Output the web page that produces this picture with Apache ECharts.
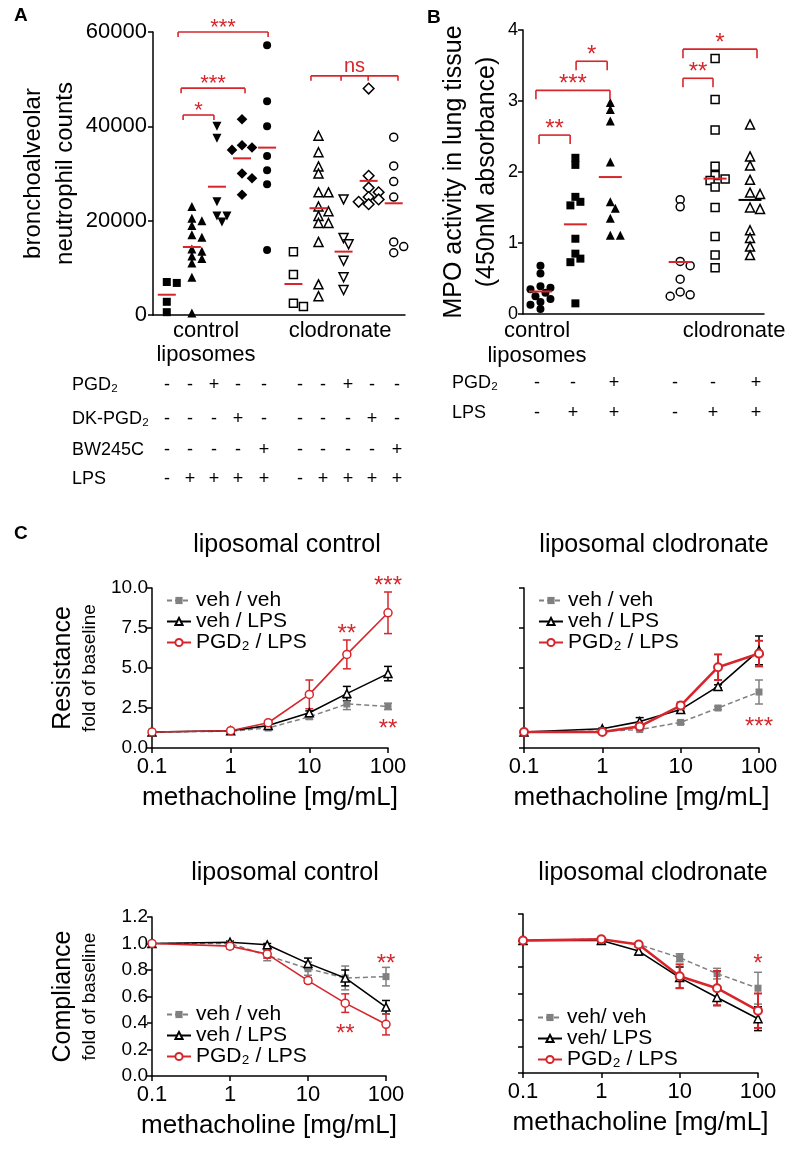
<!DOCTYPE html>
<html><head><meta charset="utf-8">
<script src="https://cdn.jsdelivr.net/npm/echarts@6/dist/echarts.min.js"></script>
<style>html,body{margin:0;padding:0;background:#fff}#c{width:800px;height:1152px}</style>
</head><body><div id="c"></div>
<script>
// ================= DATA =================
// Panel A: bronchoalveolar neutrophil counts (one array per group)
const a_ctrl_veh  = [7000, 6800, 2800, 600];
const a_ctrl_lps  = [23000, 20500, 20000, 19000, 17000, 16500, 14000, 13500, 12500, 12000, 11000, 8000, 400];
const a_ctrl_pgd2 = [40000, 37500, 24000, 21000, 21000, 19700];
const a_ctrl_dk   = [41500, 36000, 35500, 35000, 30000, 29000, 25500];
const a_ctrl_bw   = [57200, 45300, 40000, 33700, 30700, 27700, 13800];
const a_clod_veh  = [13400, 8600, 2500, 1800];
const a_clod_lps  = [38000, 34500, 31500, 30000, 26000, 26000, 23000, 22000, 21000, 19500, 19500, 15500, 6500, 4000];
const a_clod_pgd2 = [24500, 16300, 15000, 11500, 8000, 5300];
const a_clod_dk   = [48000, 29500, 27000, 26000, 25000, 24500, 24000, 23500];
const a_clod_bw   = [37700, 31600, 28300, 25000, 15500, 14500, 13200];
const yTicksA = [0, 20000, 40000, 60000];
const groupLabelsA = ['control\nliposomes', 'clodronate'];
const tableRowsA = ['PGD₂', 'DK-PGD₂', 'BW245C', 'LPS'];
const tableSignsA = [
  ['-','-','+','-','-','-','-','+','-','-'],
  ['-','-','-','+','-','-','-','-','+','-'],
  ['-','-','-','-','+','-','-','-','-','+'],
  ['-','+','+','+','+','-','+','+','+','+']
];
const bracketsA = [
  {xs:[1.45, 5.04], y:60000, label:'***'},
  {xs:[1.57, 4.12], y:48100, label:'***'},
  {xs:[1.65, 2.88], y:42400, label:'*'},
  {xs:[6.75, 7.95, 9.03, 10.22], y:50700, label:'ns'}
];

// Panel B: MPO activity
const b_ctrl_veh  = [0.68, 0.57, 0.39, 0.37, 0.35, 0.30, 0.25, 0.21, 0.17, 0.13, 0.07];
const b_ctrl_lps  = [2.2, 2.1, 1.65, 1.58, 1.53, 1.06, 0.85, 0.78, 0.73, 0.15];
const b_ctrl_pgd2 = [2.98, 2.88, 2.72, 2.14, 1.58, 1.49, 1.35, 1.11, 1.11];
const b_clod_veh  = [1.61, 1.51, 0.74, 0.68, 0.49, 0.31, 0.27, 0.25];
const b_clod_lps  = [3.6, 3.02, 2.59, 2.08, 1.95, 1.9, 1.88, 1.79, 1.5, 1.09, 0.83, 0.65];
const b_clod_pgd2 = [2.67, 2.22, 2.09, 1.89, 1.71, 1.69, 1.5, 1.48, 1.18, 1.07, 0.95, 0.83];
const yTicksB = [0, 1, 2, 3, 4];
const groupLabelsB = ['control\nliposomes', 'clodronate'];
const tableRowsB = ['PGD₂', 'LPS'];
const tableSignsB = [
  ['-','-','+','-','-','+'],
  ['-','+','+','-','+','+']
];
const bracketsB = [
  {xs:[0.96, 1.85], y:2.52, label:'**'},
  {xs:[0.87, 2.99], y:3.15, label:'***'},
  {xs:[2.02, 2.91], y:3.56, label:'*'},
  {xs:[5.08, 5.94], y:3.32, label:'**'},
  {xs:[5.08, 7.20], y:3.73, label:'*'}
];

// Panel C: methacholine dose-response
const methacholine = [0.1, 1, 3, 10, 30, 100];
const xTicksC = [0.1, 1, 10, 100];
const yTicksRes = [0, 2.5, 5, 7.5, 10];
const yTicksComp = [0, 0.2, 0.4, 0.6, 0.8, 1.0, 1.2];
const legendNames  = ['veh / veh', 'veh / LPS', 'PGD₂ / LPS'];
const legendNames2 = ['veh/ veh', 'veh/ LPS', 'PGD₂ / LPS'];
const chartTitles = ['liposomal control', 'liposomal clodronate', 'liposomal control', 'liposomal clodronate'];

// Resistance, liposomal control
const resCtrl_vv = [1.0, 1.05, 1.25, 1.95, 2.75, 2.6];
const resCtrl_vv_err = [0, 0.05, 0.1, 0.15, 0.35, 0.2];
const resCtrl_vl = [1.0, 1.08, 1.4, 2.2, 3.4, 4.65];
const resCtrl_vl_err = [0, 0.05, 0.1, 0.12, 0.45, 0.45];
const resCtrl_pl = [1.0, 1.08, 1.58, 3.35, 5.85, 8.45];
const resCtrl_pl_err = [0, 0.05, 0.1, 0.9, 0.9, 1.3];
const resCtrl_stars = [[100, 10.4, '***'], [30, 7.4, '**'], [100, 1.45, '**']];
// Resistance, liposomal clodronate
const resClod_vv = [1.0, 1.05, 1.15, 1.6, 2.5, 3.5];
const resClod_vv_err = [0, 0.03, 0.05, 0.1, 0.1, 0.75];
const resClod_vl = [1.0, 1.2, 1.65, 2.4, 3.85, 6.1];
const resClod_vl_err = [0, 0.05, 0.25, 0.1, 0.1, 0.9];
const resClod_pl = [1.0, 1.0, 1.35, 2.65, 5.05, 5.9];
const resClod_pl_err = [0, 0.05, 0.1, 0.2, 0.8, 0.8];
const resClod_stars = [[100, 1.6, '***']];
// Compliance, liposomal control
const compCtrl_vv = [1.0, 1.0, 0.91, 0.81, 0.74, 0.75];
const compCtrl_vv_err = [0, 0.01, 0.04, 0.05, 0.09, 0.07];
const compCtrl_vl = [1.0, 1.01, 0.99, 0.85, 0.74, 0.52];
const compCtrl_vl_err = [0, 0.01, 0.01, 0.04, 0.06, 0.05];
const compCtrl_pl = [1.0, 0.98, 0.92, 0.72, 0.55, 0.39];
const compCtrl_pl_err = [0, 0.02, 0.03, 0.02, 0.07, 0.08];
const compCtrl_stars = [[100, 0.88, '**'], [30, 0.35, '**']];
// Compliance, liposomal clodronate
const compClod_vv = [1.0, 1.01, 0.97, 0.87, 0.75, 0.64];
const compClod_vv_err = [0, 0.01, 0.01, 0.03, 0.04, 0.12];
const compClod_vl = [1.0, 1.0, 0.92, 0.72, 0.57, 0.41];
const compClod_vl_err = [0, 0.01, 0.03, 0.08, 0.06, 0.09];
const compClod_pl = [1.0, 1.01, 0.97, 0.73, 0.64, 0.47];
const compClod_pl_err = [0, 0.01, 0.01, 0.09, 0.13, 0.13];
const compClod_stars = [[100, 0.86, '*']];

// ================= STYLE / LAYOUT =================
const FF = 'Liberation Sans, Arial, sans-serif';
const RED = '#d7262b', GREY = '#808080', BLACK = '#000';
const gridA = {left:153, top:32, width:252, height:283};
const gridB = {left:523, top:30, width:241, height:284};
const gridC = [
  {left:152, top:588, width:236, height:160},
  {left:524, top:588, width:235, height:160},
  {left:152, top:917, width:234, height:159},
  {left:523, top:914, width:235, height:159}
];
const xMinA = 0.45, xMaxA = 10.5, xMinB = 0.5, xMaxB = 7.4;
const pxPerXA = gridA.width / (xMaxA - xMinA);
const pxPerYA = gridA.height / (yTicksA[yTicksA.length-1] - yTicksA[0]);
const pxPerXB = gridB.width / (xMaxB - xMinB);
const pxPerYB = gridB.height / (yTicksB[yTicksB.length-1] - yTicksB[0]);

const groupsA = [a_ctrl_veh, a_ctrl_lps, a_ctrl_pgd2, a_ctrl_dk, a_ctrl_bw,
                 a_clod_veh, a_clod_lps, a_clod_pgd2, a_clod_dk, a_clod_bw];
const posA = groupsA.map((g, i) => i + 1 + (i >= 5 ? 0.05 : 0));
const groupsB = [b_ctrl_veh, b_ctrl_lps, b_ctrl_pgd2, b_clod_veh, b_clod_lps, b_clod_pgd2];
const posB = groupsB.map((g, i) => i + 1 + (i >= 3 ? 1 : 0));

// marker styles per group
const shapesA = [
  {symbol:'rect', size:8, rot:0}, {symbol:'triangle', size:9, rot:0}, {symbol:'triangle', size:9, rot:180},
  {symbol:'rect', size:7.5, rot:45}, {symbol:'circle', size:8, rot:0}
];
const shapesB = [
  {symbol:'circle', size:8, rot:0}, {symbol:'rect', size:8, rot:0}, {symbol:'triangle', size:9, rot:0}
];
const meanColorsB = [RED, RED, RED, RED, RED, BLACK];

// simple deterministic beeswarm placement
function swarm(vals, center, pxX, pxY, step, minDist) {
  const order = vals.map((v, i) => i).sort((a, b) => vals[b] - vals[a]);
  const placed = [], out = new Array(vals.length);
  order.forEach(i => {
    const py = vals[i] * pxY;
    for (let k = 0; k < 30; k++) {
      const off = (k === 0 ? 0 : (k % 2 === 1 ? 1 : -1) * Math.ceil(k / 2)) * step;
      if (placed.every(p => Math.hypot(p.x - off, p.y - py) >= minDist)) {
        placed.push({x: off, y: py});
        out[i] = [center + off / pxX, vals[i]];
        break;
      }
    }
  });
  return out;
}
const mean = a => a.reduce((s, v) => s + v, 0) / a.length;

function scatterSeries(vals, pos, shape, open, axisIdx, pxX, pxY) {
  return {
    type: 'scatter', xAxisIndex: axisIdx, yAxisIndex: axisIdx,
    data: swarm(vals, pos, pxX, pxY, 5, 7),
    symbol: shape.symbol, symbolSize: shape.size, symbolRotate: shape.rot,
    itemStyle: open ? {color:'#fff', borderColor:BLACK, borderWidth:1.5, opacity:1}
                    : {color:BLACK, borderColor:BLACK, borderWidth:0, opacity:1},
    z: 3, silent: true
  };
}
function meanSeries(means, pos, axisIdx, halfW, colors) {
  return {
    type:'custom', xAxisIndex:axisIdx, yAxisIndex:axisIdx, z:5, silent:true,
    data: means.map((m, i) => [pos[i], m]),
    encode:{x:0, y:1},
    renderItem(params, api) {
      const c = api.coord([api.value(0), api.value(1)]);
      return {type:'line', shape:{x1:c[0]-halfW, y1:c[1], x2:c[0]+halfW, y2:c[1]},
              style:{stroke: colors ? colors[params.dataIndex] : RED, lineWidth:2}};
    }
  };
}
function bracketSeries(brackets, axisIdx, tickLen, starFont, labelOff) {
  return {
    type:'custom', xAxisIndex:axisIdx, yAxisIndex:axisIdx, z:6, silent:true, clip:false,
    data: brackets.map(b => [b.xs[0], b.y]),
    encode:{x:0, y:1},
    renderItem(params, api) {
      const b = brackets[params.dataIndex];
      const pts = b.xs.map(x => api.coord([x, b.y]));
      const y = pts[0][1];
      const children = [{type:'line', shape:{x1:pts[0][0], y1:y, x2:pts[pts.length-1][0], y2:y},
                         style:{stroke:RED, lineWidth:1.6}}];
      pts.forEach(p => children.push({type:'line', shape:{x1:p[0], y1:y, x2:p[0], y2:y+tickLen},
                                      style:{stroke:RED, lineWidth:1.6}}));
      const cx = (pts[0][0] + pts[pts.length-1][0]) / 2;
      const isNs = b.label === 'ns';
      children.push({type:'text', style:{text:b.label, x:cx, y: y - (isNs ? 9 : labelOff),
        fill:RED, font: (isNs ? '20px ' : starFont + 'px ') + FF, align:'center', verticalAlign:'middle'}});
      return {type:'group', children};
    }
  };
}

// ---------- Panel C helpers ----------
function lineSeries(name, vals, axisIdx, kind, thick) {
  const base = {type:'line', name, xAxisIndex:axisIdx, yAxisIndex:axisIdx,
    data: methacholine.map((x, i) => [x, vals[i]]), silent:true};
  if (kind === 'vv') return Object.assign(base, {
    symbol:'rect', symbolSize:7, z:2,
    lineStyle:{color:GREY, width:1.5, type:[5,3]},
    itemStyle:{color:GREY, borderColor:GREY, borderWidth:0}});
  if (kind === 'vl') return Object.assign(base, {
    symbol:'triangle', symbolSize:8, z:3,
    lineStyle:{color:BLACK, width:1.6},
    itemStyle:{color:'#fff', borderColor:BLACK, borderWidth:1.5}});
  return Object.assign(base, {
    symbol:'circle', symbolSize:8, z:4,
    lineStyle:{color:RED, width: thick ? 2.6 : 1.6},
    itemStyle:{color:'#fff', borderColor:RED, borderWidth: thick ? 2 : 1.5}});
}
function errSeries(vals, errs, axisIdx, color, lw, z) {
  return {type:'custom', xAxisIndex:axisIdx, yAxisIndex:axisIdx, z, silent:true, clip:false,
    data: methacholine.map((x, i) => [x, vals[i], errs[i]]),
    encode:{x:0, y:1},
    renderItem(params, api) {
      const x = api.value(0), y = api.value(1), e = api.value(2);
      if (!e) return null;
      const t = api.coord([x, y + e]), b = api.coord([x, y - e]), hw = 4;
      const st = {stroke:color, lineWidth:lw};
      return {type:'group', children:[
        {type:'line', shape:{x1:t[0], y1:t[1], x2:b[0], y2:b[1]}, style:st},
        {type:'line', shape:{x1:t[0]-hw, y1:t[1], x2:t[0]+hw, y2:t[1]}, style:st},
        {type:'line', shape:{x1:b[0]-hw, y1:b[1], x2:b[0]+hw, y2:b[1]}, style:st}]};
    }};
}
function starSeries(stars, axisIdx) {
  return {type:'custom', xAxisIndex:axisIdx, yAxisIndex:axisIdx, z:7, silent:true, clip:false,
    data: stars.map(s => [s[0], s[1]]), encode:{x:0, y:1},
    renderItem(params, api) {
      const c = api.coord([api.value(0), api.value(1)]);
      return {type:'text', style:{text: stars[params.dataIndex][2], x:c[0], y:c[1] + 5,
        fill:RED, font:'24px ' + FF, align:'center', verticalAlign:'middle'}};
    }};
}

const axisLine = {show:true, lineStyle:{color:BLACK, width:1.5}};
const axisTick = {show:true, length:5, inside:false, lineStyle:{color:BLACK, width:1.5}};
const numFmt = v => String(parseFloat(Number(v).toPrecision(6)));

// ================= OPTION =================
const xAxes = [], yAxes = [], series = [];
// Panel A axes
xAxes.push({gridIndex:0, type:'value', min:xMinA, max:xMaxA, axisLine, axisTick:{show:false},
  axisLabel:{show:false}, splitLine:{show:false}});
yAxes.push({gridIndex:0, type:'value', min:yTicksA[0], max:yTicksA[yTicksA.length-1],
  interval:yTicksA[1]-yTicksA[0], axisLine, axisTick, splitLine:{show:false},
  axisLabel:{fontSize:22, fontFamily:FF, color:BLACK, margin:6, formatter:v => String(v)},
  name:'bronchoalveolar\nneutrophil counts', nameLocation:'middle', nameRotate:90, nameGap:72,
  nameTextStyle:{fontSize:24, lineHeight:32, fontFamily:FF, color:BLACK}});
// Panel B axes
xAxes.push({gridIndex:1, type:'value', min:xMinB, max:xMaxB, axisLine, axisTick:{show:false},
  axisLabel:{show:false}, splitLine:{show:false}});
yAxes.push({gridIndex:1, type:'value', min:yTicksB[0], max:yTicksB[yTicksB.length-1],
  interval:yTicksB[1]-yTicksB[0], axisLine, axisTick, splitLine:{show:false},
  axisLabel:{fontSize:18, fontFamily:FF, color:BLACK, margin:5},
  name:'MPO activity in lung tissue\n(450nM absorbance)', nameLocation:'middle', nameRotate:90, nameGap:19,
  nameTextStyle:{fontSize:25, lineHeight:33, fontFamily:FF, color:BLACK}});

groupsA.forEach((g, i) => series.push(scatterSeries(g, posA[i], shapesA[i % 5], i >= 5, 0, pxPerXA, pxPerYA)));
series.push(meanSeries(groupsA.map(mean), posA, 0, 9));
series.push(bracketSeries(bracketsA, 0, 5, 22, 4));

groupsB.forEach((g, i) => series.push(scatterSeries(g, posB[i], shapesB[i % 3], i >= 3, 1, pxPerXB, pxPerYB)));
series.push(meanSeries(groupsB.map(mean), posB, 1, 11.5, meanColorsB));
series.push(bracketSeries(bracketsB, 1, 9, 24, 6));

// Panel C axes & series
const cSets = [
  {vv:resCtrl_vv, vve:resCtrl_vv_err, vl:resCtrl_vl, vle:resCtrl_vl_err, pl:resCtrl_pl, ple:resCtrl_pl_err, stars:resCtrl_stars, yt:yTicksRes, yname:'{a|Resistance}\n{b|fold of baseline}', labels:true, thick:false, names:legendNames},
  {vv:resClod_vv, vve:resClod_vv_err, vl:resClod_vl, vle:resClod_vl_err, pl:resClod_pl, ple:resClod_pl_err, stars:resClod_stars, yt:yTicksRes, yname:'', labels:false, thick:true, names:legendNames},
  {vv:compCtrl_vv, vve:compCtrl_vv_err, vl:compCtrl_vl, vle:compCtrl_vl_err, pl:compCtrl_pl, ple:compCtrl_pl_err, stars:compCtrl_stars, yt:yTicksComp, yname:'{a|Compliance}\n{b|fold of baseline}', labels:true, thick:false, names:legendNames},
  {vv:compClod_vv, vve:compClod_vv_err, vl:compClod_vl, vle:compClod_vl_err, pl:compClod_pl, ple:compClod_pl_err, stars:compClod_stars, yt:yTicksComp, yname:'', labels:false, thick:true, names:legendNames2}
];
const legendPos = [{left:166, top:590}, {left:538, top:590}, {left:166, top:1004}, {left:537, top:1007}];
const legends = [];
cSets.forEach((s, k) => {
  const ai = k + 2;
  xAxes.push({gridIndex:ai, type:'log', logBase:10, min:xTicksC[0], max:xTicksC[xTicksC.length-1],
    axisLine, axisTick, minorTick:{show:false}, splitLine:{show:false},
    axisLabel:{fontSize:22, fontFamily:FF, color:BLACK, margin:8, formatter:numFmt},
    name:'methacholine [mg/mL]', nameLocation:'middle', nameGap:37,
    nameTextStyle:{fontSize:26, fontFamily:FF, color:BLACK}});
  yAxes.push({gridIndex:ai, type:'value', min:s.yt[0], max:s.yt[s.yt.length-1],
    interval:s.yt[1]-s.yt[0], axisLine, axisTick, splitLine:{show:false},
    axisLabel:{show:s.labels, fontSize:19, fontFamily:FF, color:BLACK, margin:4, formatter:v => Number(v).toFixed(1)},
    name:s.yname, nameLocation:'middle', nameRotate:90, nameGap:50,
    nameTextStyle:{fontFamily:FF, color:BLACK, rich:{
      a:{fontSize:25, lineHeight:30, fontFamily:FF, color:BLACK},
      b:{fontSize:19, lineHeight:24, fontFamily:FF, color:BLACK}}}});
  series.push(errSeries(s.vv, s.vve, ai, GREY, 1.5, 1));
  series.push(errSeries(s.vl, s.vle, ai, BLACK, 1.5, 2));
  series.push(errSeries(s.pl, s.ple, ai, RED, s.thick ? 2 : 1.5, 3));
  series.push(lineSeries(s.names[0], s.vv, ai, 'vv', s.thick));
  series.push(lineSeries(s.names[1], s.vl, ai, 'vl', s.thick));
  series.push(lineSeries(s.names[2], s.pl, ai, 'pl', s.thick));
  series.push(starSeries(s.stars, ai));
  legends.push(Object.assign({orient:'vertical', itemWidth:24, itemHeight:9, itemGap:0,
    selectedMode:false, padding:0, data:s.names,
    textStyle:{fontSize:21, lineHeight:20, fontFamily:FF, color:BLACK}}, legendPos[k]));
});

// ---------- graphic texts ----------
const graphic = [];
function txt(text, x, y, size, opts) {
  graphic.push({type:'text', x, y, silent:true, style:Object.assign({text, font:size + 'px ' + FF, fill:BLACK,
    align:'center', verticalAlign:'middle'}, opts || {})});
}
txt('A', 14, 16, 19, {font:'bold 19px ' + FF, align:'left'});
txt('B', 427, 18, 19, {font:'bold 19px ' + FF, align:'left'});
txt('C', 14, 534, 19, {font:'bold 19px ' + FF, align:'left'});
// A group labels
txt(groupLabelsA[0], 206, 343, 22, {lineHeight:24});
txt(groupLabelsA[1], 340, 331, 22);
// B group labels
txt(groupLabelsB[0], 537, 343, 22, {lineHeight:25});
txt(groupLabelsB[1], 734, 331, 22);
// A table
const rowYA = [385, 419, 450, 479];
const colXA = [167, 190, 214, 238, 264, 300, 323, 348, 372, 397];
tableRowsA.forEach((r, ri) => {
  txt(r, 72, rowYA[ri], 18, {align:'left'});
  tableSignsA[ri].forEach((s, ci) => txt(s, colXA[ci], rowYA[ri], 18));
});
// B table
const rowYB = [383, 413];
const colXB = [537, 573, 614, 675, 713, 756];
tableRowsB.forEach((r, ri) => {
  txt(r, 452, rowYB[ri], 18, {align:'left'});
  tableSignsB[ri].forEach((s, ci) => txt(s, colXB[ci], rowYB[ri], 18));
});
// C titles
const titlePos = [[287, 545], [654, 545], [285, 873], [653, 873]];
chartTitles.forEach((t, i) => txt(t, titlePos[i][0], titlePos[i][1], 25));

const option = {
  animation:false, backgroundColor:'#fff',
  textStyle:{fontFamily:FF},
  grid:[gridA, gridB].concat(gridC).map(g => Object.assign({containLabel:false}, g)),
  xAxis:xAxes, yAxis:yAxes, legend:legends, series, graphic
};
const chart = echarts.init(document.getElementById('c'), null, {renderer:'canvas'});
chart.setOption(option);
</script></body></html>
